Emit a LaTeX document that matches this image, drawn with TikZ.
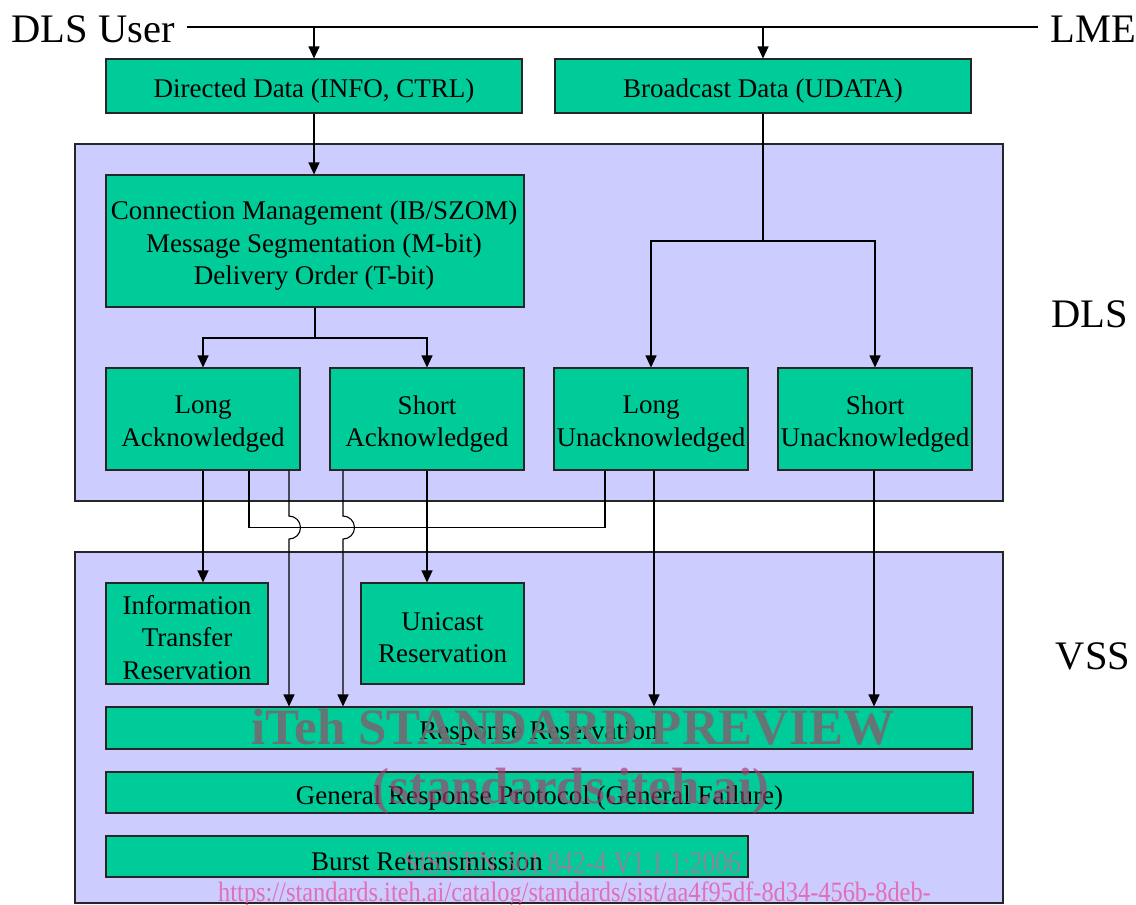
\documentclass[tikz,border=0pt]{standalone}
\usepackage{fontspec}
\setmainfont{Liberation Serif}
\usetikzlibrary{arrows.meta}
\definecolor{boxgreen}{RGB}{0,204,153}
\definecolor{lav}{RGB}{204,204,255}
\definecolor{wmgray}{RGB}{110,110,116}
\definecolor{wmred}{RGB}{170,60,110}
\definecolor{wmpink}{RGB}{195,105,150}
\definecolor{wmurl}{RGB}{228,100,175}
\begin{document}
\begin{tikzpicture}[x=1pt,y=-1pt,
  line width=1.1pt,
  gbox/.style={draw=black!85, fill=boxgreen, inner sep=0pt},
  gtext/.style={inner sep=0pt, align=center, font=\fontsize{27}{32.5}\selectfont},
  lbox/.style={draw=black!85, fill=lav, inner sep=0pt},
  arr/.style={-{Triangle[width=11pt,length=12pt]}},
  big/.style={font=\fontsize{40.5}{45}\selectfont, inner sep=0pt},
  wmark/.style={inner sep=0pt, anchor=base},
]
\useasboundingbox (0,0) rectangle (1136,905);

% layer boxes
\node[lbox, minimum width=928pt, minimum height=357pt] (dlsbox) at (539,322.5) {};
\node[lbox, minimum width=928pt, minimum height=351pt] (vssbox) at (539,727.5) {};

% side labels
\node[big, anchor=base west] (user) at (11,42) {DLS User};
\node[big, anchor=base east] (lme) at (1137,42) {LME};
\node[big, anchor=base] (dlsl) at (1090,327) {DLS};
\node[big, anchor=base] (vssl) at (1093,669) {VSS};

% green boxes
\node[gbox, minimum width=416pt, minimum height=54pt] (dd) at (314,86) {};
\node[gbox, minimum width=416pt, minimum height=54pt] (bd) at (763,86) {};
\node[gbox, minimum width=418pt, minimum height=132pt] (conn) at (315,241) {};
\node[gbox, minimum width=194pt, minimum height=102pt] (la) at (203,419) {};
\node[gbox, minimum width=194pt, minimum height=102pt] (sa) at (427,419) {};
\node[gbox, minimum width=194pt, minimum height=102pt] (lu) at (651,419) {};
\node[gbox, minimum width=194pt, minimum height=102pt] (su) at (875,419) {};
\node[gbox, minimum width=162pt, minimum height=101pt] (itr) at (187,633.5) {};
\node[gbox, minimum width=163pt, minimum height=101pt] (ur) at (442.5,633.5) {};
\node[gbox, minimum width=866pt, minimum height=42pt] (rr) at (539,728) {};
\node[gbox, minimum width=867pt, minimum height=41pt] (grp) at (539.5,792.5) {};
\node[gbox, minimum width=642pt, minimum height=41pt] (br) at (427,856.5) {};

% box texts
\node[gtext] (ddt) at ([yshift=-5.5pt]dd.center) {Directed Data (INFO, CTRL)};
\node[gtext] (bdt) at ([yshift=-5.5pt]bd.center) {Broadcast Data (UDATA)};
\node[gtext] (connt) at ([xshift=-1pt,yshift=-5pt]conn.center) {Connection Management (IB/SZOM)\\Message Segmentation (M-bit)\\Delivery Order (T-bit)};
\node[gtext] (lat) at ([yshift=-5pt]la.center) {Long\\Acknowledged};
\node[gtext] (sat) at ([yshift=-5pt]sa.center) {Short\\Acknowledged};
\node[gtext] (lut) at ([yshift=-5pt]lu.center) {Long\\Unacknowledged};
\node[gtext] (sut) at ([yshift=-5pt]su.center) {Short\\Unacknowledged};
\node[gtext] (itrt) at ([yshift=-4pt]itr.center) {Information\\Transfer\\Reservation};
\node[gtext] (urt) at ([yshift=-4pt]ur.center) {Unicast\\Reservation};
\node[gtext] (rrt) at ([yshift=-5pt]rr.center) {Response Reservation};
\node[gtext] (grpt) at ([yshift=-5pt]grp.center) {General Response Protocol (General Failure)};
\node[gtext] (brt) at ([yshift=-5pt]br.center) {Burst Retransmission};

% top line
\coordinate (tl) at (187,27);
\coordinate (tr) at (1038,27);
\draw (tl) -- (tr);
\draw[arr] (dd.north |- tl) -- (dd.north);
\draw[arr] (bd.north |- tl) -- (bd.north);

% directed path
\draw[arr] (dd.south) -- (dd.south |- conn.north);
\coordinate (csplit) at (conn.south |- 0,338);
\draw (conn.south) -- (csplit);
\draw[arr] (csplit) -| (la.north);
\draw[arr] (csplit) -| (sa.north);

% broadcast path
\coordinate (bsplit) at (bd.south |- 0,241);
\draw (bd.south) -- (bsplit);
\draw[arr] (bsplit) -| (lu.north);
\draw[arr] (bsplit) -| (su.north);

% connectors to VSS
\coordinate (la2) at ([xshift=46pt]la.south);
\coordinate (la3) at ([xshift=86pt]la.south);
\coordinate (sa1) at ([xshift=-84pt]sa.south);
\coordinate (lu1) at ([xshift=-46pt]lu.south);
\coordinate (lu2) at ([xshift=3pt]lu.south);
\coordinate (su1) at ([xshift=-1pt]su.south);

\draw[arr] (la.south) -- (la.south |- itr.north);
\draw[arr] (sa.south) -- (sa.south |- ur.north);
\draw (la2) -- ++(0,57) -| (lu1);
\draw[arr] (la3) -- ++(0,45.5) arc[start angle=90, end angle=-90, radius=11.5pt] -- (la3 |- rr.north);
\draw[arr] (sa1) -- ++(0,45.5) arc[start angle=90, end angle=-90, radius=11.5pt] -- (sa1 |- rr.north);
\draw[arr] (lu2) -- (lu2 |- rr.north);
\draw[arr] (su1) -- (su1 |- rr.north);

% watermark
\node[wmark, text=wmgray, opacity=0.92, font=\fontsize{51}{55}\selectfont\bfseries] (wm1) at (573,744) {iTeh STANDARD PREVIEW};
\node[wmark, text=wmred, opacity=0.65, font=\fontsize{51}{55}\selectfont\bfseries] (wm2) at (571,803) {(standards.iteh.ai)};
\node[wmark, text=wmpink, opacity=0.7, font=\fontsize{32}{36}\selectfont] (wm3) at (572.5,873) {\scalebox{0.796}[1]{SIST EN 301 842-4 V1.1.1:2006}};
\node[wmark, text=wmurl, opacity=0.9, font=\fontsize{28}{32}\selectfont] (wm4) at (574.5,901) {\scalebox{0.871}[1]{https://standards.iteh.ai/catalog/standards/sist/aa4f95df-8d34-456b-8deb-}};
\draw[black!85] (vssbox.south west) -- (vssbox.south east);
\end{tikzpicture}
\end{document}
